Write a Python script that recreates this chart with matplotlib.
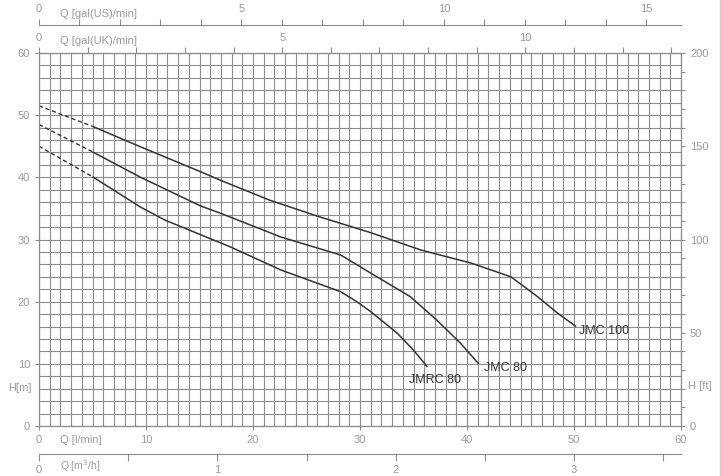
import matplotlib.pyplot as plt
from matplotlib.ticker import MultipleLocator, FixedLocator
from matplotlib.lines import Line2D

plt.rcParams['font.family'] = ['Liberation Sans', 'DejaVu Sans']

# pump curves, Q in l/min, H in m
jmc100_q = [5.0, 9.5, 15.1, 17.0, 21.6, 26.3, 31.0, 35.7, 40.4, 44.1, 46.6, 48.5, 50.2]
jmc100_h = [48.2, 44.9, 40.9, 39.5, 36.3, 33.6, 31.1, 28.3, 26.2, 24.0, 20.8, 18.1, 16.0]
jmc100_dash_q = [0, 5.0]
jmc100_dash_h = [51.5, 48.2]

jmc80_q = [5.0, 9.5, 15.1, 17.0, 22.6, 28.2, 31.0, 34.7, 37.2, 39.4, 41.1]
jmc80_h = [44.1, 40.0, 35.4, 34.2, 30.4, 27.5, 24.6, 20.8, 17.0, 13.3, 10.0]
jmc80_dash_q = [0, 5.0]
jmc80_dash_h = [48.5, 44.1]

jmrc80_q = [5.0, 9.5, 11.8, 17.9, 22.6, 28.2, 29.7, 31.0, 33.5, 35.0, 36.3]
jmrc80_h = [40.1, 35.2, 33.1, 28.8, 25.1, 21.6, 20.0, 18.4, 14.9, 12.2, 9.5]
jmrc80_dash_q = [0, 5.0]
jmrc80_dash_h = [45.0, 40.1]

curve_names = ['JMC 100', 'JMC 80', 'JMRC 80']
label_pos = [(50.5, 15.3), (41.6, 9.3), (34.6, 7.4)]

LPM_PER_USGAL = 3.785
LPM_PER_UKGAL = 4.546
LPM_PER_M3H = 1000 / 60

grey = '#8c8c8c'
txt = '#9a9a9a'
dark = '#333333'
fs = 8

W, H = 721, 476
fig = plt.figure(figsize=(W / 100, H / 100), dpi=100)
x0, x1 = 39, 681
y0, y1 = 426, 53
ax = fig.add_axes([x0 / W, 1 - y0 / H, (x1 - x0) / W, (y0 - y1) / H])

ax.set_xlim(0, 60)
ax.set_ylim(0, 60)
ax.xaxis.set_major_locator(MultipleLocator(10))
ax.yaxis.set_major_locator(MultipleLocator(10))
ax.xaxis.set_minor_locator(MultipleLocator(1))
ax.yaxis.set_minor_locator(MultipleLocator(2))
ax.grid(which='both', color=grey, lw=0.8)
ax.tick_params(which='minor', length=0)
ax.tick_params(which='major', length=3, color=grey, labelcolor=txt, labelsize=fs, width=0.8)
for s in ax.spines.values():
    s.set_color(grey)
    s.set_linewidth(0.8)
ax.set_axisbelow(True)

for q, h, dq, dh in [(jmc100_q, jmc100_h, jmc100_dash_q, jmc100_dash_h),
                     (jmc80_q, jmc80_h, jmc80_dash_q, jmc80_dash_h),
                     (jmrc80_q, jmrc80_h, jmrc80_dash_q, jmrc80_dash_h)]:
    ax.plot(q, h, color=dark, lw=1.1, solid_capstyle='butt', solid_joinstyle='round')
    ax.plot(dq, dh, color=dark, lw=1.0, ls=(0, (3, 2)))

for name, (lx, ly) in zip(curve_names, label_pos):
    ax.text(lx, ly, name, color=dark, fontsize=9, va='center', ha='left')

# right axis in ft
axr = ax.twinx()
axr.set_ylim(0, 200)
axr.yaxis.set_major_locator(MultipleLocator(50))
axr.yaxis.set_minor_locator(MultipleLocator(10))
axr.tick_params(which='both', length=3, color=grey, labelcolor=txt, labelsize=fs, width=0.8)
for s in axr.spines.values():
    s.set_color(grey)
    s.set_linewidth(0.8)

# UK gallons on top spine
uk = ax.secondary_xaxis('top', functions=(lambda x: x / LPM_PER_UKGAL, lambda g: g * LPM_PER_UKGAL))
uk.xaxis.set_major_locator(FixedLocator([0, 5, 10]))
uk.xaxis.set_minor_locator(FixedLocator(list(range(0, 14))))
uk.tick_params(which='both', length=4, color=grey, labelcolor=txt, labelsize=fs, width=0.8)
uk.spines['top'].set_color(grey)

# US gallons axis above
ax_us = fig.add_axes([x0 / W, 1 - 25 / H, (x1 - x0) / W, 0.0001])
ax_us.set_xlim(0, 60 / LPM_PER_USGAL)
for k in ['left', 'right', 'bottom']:
    ax_us.spines[k].set_visible(False)
ax_us.spines['top'].set_color(grey)
ax_us.set_yticks([])
ax_us.xaxis.tick_top()
ax_us.xaxis.set_major_locator(FixedLocator([0, 5, 10, 15]))
ax_us.xaxis.set_minor_locator(FixedLocator(list(range(0, 16))))
ax_us.tick_params(which='both', length=4, color=grey, labelcolor=txt, labelsize=fs, width=0.8, pad=4)
ax_us.patch.set_visible(False)

# m3/h axis below
ax_m3 = fig.add_axes([x0 / W, 1 - 454 / H, (x1 - x0) / W, 0.0001])
ax_m3.set_xlim(0, 60 / LPM_PER_M3H)
for k in ['left', 'right', 'top']:
    ax_m3.spines[k].set_visible(False)
ax_m3.spines['bottom'].set_color(grey)
ax_m3.set_yticks([])
ax_m3.xaxis.set_major_locator(FixedLocator([0, 1, 2, 3]))
ax_m3.xaxis.set_minor_locator(FixedLocator([0.5, 1.5, 2.5, 3.5]))
ax_m3.tick_params(which='both', length=5, color=grey, labelcolor=txt, labelsize=fs, width=0.8, pad=3)
ax_m3.patch.set_visible(False)

# axis titles
fig.text(60 / W, 1 - 14 / H, 'Q [gal(US)/min]', color=txt, fontsize=fs, va='center')
fig.text(60 / W, 1 - 41 / H, 'Q [gal(UK)/min]', color=txt, fontsize=fs, va='center')
fig.text(60 / W, 1 - 440 / H, 'Q [l/min]', color=txt, fontsize=fs, va='center')
fig.text(60 / W, 1 - 470 / H, 'Q [m$^3$/h]', color=txt, fontsize=7.5, va='baseline')
fig.text(8 / W, 1 - 388 / H, 'H[m]', color=txt, fontsize=fs, va='center')
fig.text(688 / W, 1 - 386 / H, 'H [ft]', color=txt, fontsize=fs, va='center')

fig.add_artist(Line2D([719.5 / W, 719.5 / W], [0, 1], color='#d0d0d0', lw=1))

fig.savefig('out.png', dpi=100)
